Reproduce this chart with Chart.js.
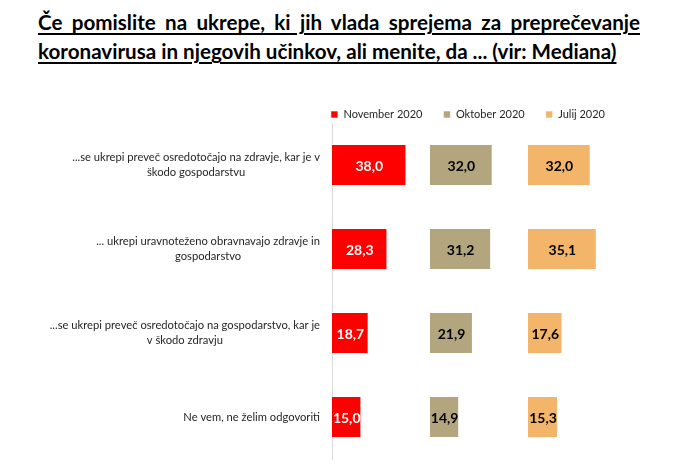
<!DOCTYPE html>
<html lang="sl">
<head>
    <meta charset="UTF-8">
    <title>Ukrepi vlade - Mediana</title>
    <script src="https://cdn.jsdelivr.net/npm/chart.js"></script>
    <style>
        body { margin: 0; background: #fff; font-family: Lato, sans-serif; }
        #wrap { position: relative; width: 680px; height: 472px; }
        #title {
            position: absolute; left: 38px; top: 8px; width: 602px;
            font-weight: bold; font-size: 20.6px; line-height: 29px; color: #000;
            text-decoration: underline; text-underline-offset: 3px;
            text-align: justify;
        }
        canvas { position: absolute; left: 0; top: 0; }
    </style>
</head>
<body>
<div id="wrap">
    <div id="title">Če pomislite na ukrepe, ki jih vlada sprejema za preprečevanje koronavirusa in njegovih učinkov, ali menite, da ... (vir: Mediana)</div>
    <canvas id="chart" width="680" height="472"></canvas>
</div>
<script>
    // odgovori (kategorije)
    const categories = [
        ["...se ukrepi preveč osredotočajo na zdravje, kar je v", "škodo gospodarstvu"],
        ["... ukrepi uravnoteženo obravnavajo zdravje in", "gospodarstvo"],
        ["...se ukrepi preveč osredotočajo na gospodarstvo, kar je", "v škodo zdravju"],
        ["Ne vem, ne želim odgovoriti"]
    ];
    const seriesNames = ["November 2020", "Oktober 2020", "Julij 2020"];
    const november = [38.0, 28.3, 18.7, 15.0];
    const oktober = [32.0, 31.2, 21.9, 14.9];
    const julij = [32.0, 35.1, 17.6, 15.3];

    const colors = ["#ff0000", "#b3a57d", "#f2b56a"];
    const labelColors = ["#ffffff", "#000000", "#000000"];

    // vrednosti v stolpcih
    const valueLabels = {
        id: "valueLabels",
        afterDatasetsDraw(chart) {
            const ctx = chart.ctx;
            ctx.save();
            ctx.font = "bold 14px Lato";
            ctx.textAlign = "center";
            ctx.textBaseline = "middle";
            chart.data.datasets.forEach((ds, i) => {
                chart.getDatasetMeta(i).data.forEach((bar, j) => {
                    ctx.fillStyle = labelColors[i];
                    ctx.fillText(ds.data[j].toFixed(1).replace(".", ","), (bar.x + bar.base) / 2, bar.y + 1);
                });
            });
            ctx.restore();
        }
    };

    // oznake kategorij: blok poravnan desno, vrstice centrirane
    const categoryLabels = {
        id: "categoryLabels",
        afterDraw(chart) {
            const ctx = chart.ctx;
            const y = chart.scales.y;
            ctx.save();
            ctx.font = "11.2px Lato";
            ctx.fillStyle = "#262626";
            ctx.textAlign = "center";
            ctx.textBaseline = "middle";
            chart.data.labels.forEach((lines, i) => {
                const w = Math.max(...lines.map(l => ctx.measureText(l).width));
                const cx = y.right - 12 - w / 2;
                const cy = y.getPixelForValue(i);
                const lh = 15;
                lines.forEach((l, k) => {
                    ctx.fillText(l, cx, cy + (k - (lines.length - 1) / 2) * lh);
                });
            });
            ctx.restore();
        }
    };

    // legenda nekoliko bliže grafu
    const legendNudge = {
        id: "legendNudge",
        afterLayout(chart) {
            chart.legend.top += 7;
            chart.legend.bottom += 7;
        }
    };

    const panel = {
        type: "linear", position: "bottom", stack: "panels", stackWeight: 1,
        min: 0, max: 50,
        grid: { display: false, drawTicks: false }, border: { display: false }, ticks: { display: false }
    };

    new Chart(document.getElementById("chart"), {
        type: "bar",
        data: {
            labels: categories,
            datasets: [
                { label: seriesNames[0], data: november, backgroundColor: colors[0], xAxisID: "x1" },
                { label: seriesNames[1], data: oktober, backgroundColor: colors[1], xAxisID: "x2" },
                { label: seriesNames[2], data: julij, backgroundColor: colors[2], xAxisID: "x3" }
            ]
        },
        options: {
            indexAxis: "y",
            responsive: false,
            animation: false,
            datasets: { bar: { grouped: false, barPercentage: 0.5, categoryPercentage: 1, borderWidth: 1, borderColor: "rgba(255,255,255,0.6)" } },
            layout: { padding: { top: 81, right: 54, bottom: 13, left: 0 } },
            plugins: {
                legend: {
                    align: "end",
                    labels: { boxWidth: 7, boxHeight: 7, padding: 21, color: "#262626", font: { family: "Lato", size: 11 } }
                },
                tooltip: { enabled: false }
            },
            scales: {
                y: {
                    grid: { display: false },
                    border: { color: "#d9d9d9" },
                    ticks: { display: false },
                    afterFit(scale) { scale.width = 332; }
                },
                x1: panel,
                x2: Object.assign({}, panel),
                x3: Object.assign({}, panel)
            }
        },
        plugins: [valueLabels, categoryLabels, legendNudge]
    });
</script>
</body>
</html>
